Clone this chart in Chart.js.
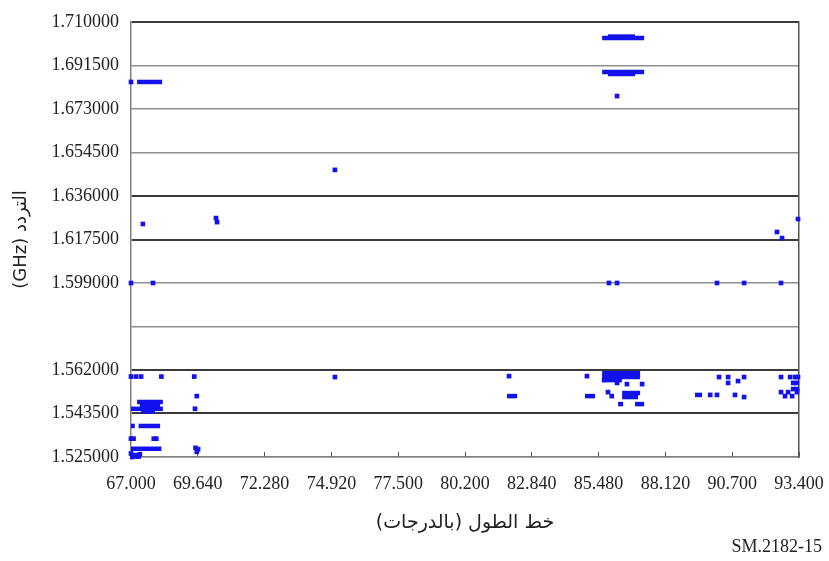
<!DOCTYPE html>
<html>
<head>
<meta charset="utf-8">
<script src="https://cdn.jsdelivr.net/npm/chart.js@4/dist/chart.umd.min.js"></script>
<style>
  html, body { margin: 0; padding: 0; background: #ffffff; }
  #wrap { width: 829px; height: 561px; }
</style>
</head>
<body>
<div id="wrap"><canvas id="c" width="829" height="561"></canvas></div>
<script>
// ---- Data ----
const xTickValues = [67.0, 69.64, 72.28, 74.92, 77.56, 80.2, 82.84, 85.48, 88.12, 90.76, 93.4];
const xTickLabels = ['67.000', '69.640', '72.280', '74.920', '77.500', '80.200', '82.840', '85.480', '88.120', '90.700', '93.400'];
const yTickValues = [1.525, 1.5435, 1.562, 1.5805, 1.599, 1.6175, 1.636, 1.6545, 1.673, 1.6915, 1.71];
const yTickLabels = ['1.525000', '1.543500', '1.562000', '', '1.599000', '1.617500', '1.636000', '1.654500', '1.673000', '1.691500', '1.710000'];
const yDarkLines = [1.5435, 1.562, 1.6175, 1.636, 1.71];

// isolated measurements (longitude, frequency GHz)
const pointsX = [
  67.0, 75.06, 86.21, 67.47, 70.36, 70.40,
  67.0, 67.87, 85.89, 86.21, 90.16, 91.23, 92.69,
  92.53, 92.73, 93.36,
  75.06,
  67.0, 67.2, 67.4, 68.2, 69.5,
  69.6, 69.53,
  67.0, 67.1, 67.9, 68.0,
  69.55, 69.65, 69.6,
  67.0, 67.1, 67.2, 67.35, 67.05, 67.3,
  81.94, 85.02,
  86.21, 86.6, 87.2, 85.7, 85.85, 86.0,
  89.89, 90.16, 90.87, 91.23,
  90.24, 90.6, 90.6, 90.99, 91.23,
  92.69, 93.05, 93.25, 93.36, 93.17, 93.32, 93.17, 93.32, 92.69, 92.97, 93.32, 92.85, 93.13
];
const pointsY = [
  1.6845, 1.6471, 1.6785, 1.6241, 1.6266, 1.6249,
  1.599, 1.599, 1.599, 1.599, 1.599, 1.599, 1.599,
  1.6207, 1.6181, 1.6262,
  1.5590,
  1.5592, 1.5592, 1.5592, 1.5592, 1.5592,
  1.5509, 1.5455,
  1.5328, 1.5328, 1.5328, 1.5328,
  1.5289, 1.5283, 1.5272,
  1.5265, 1.5258, 1.5252, 1.5262, 1.5250, 1.5252,
  1.5594, 1.5594,
  1.5565, 1.5560, 1.5560, 1.5577, 1.5526, 1.5509,
  1.5514, 1.5514, 1.5514, 1.5505,
  1.5590, 1.5590, 1.5565, 1.5573, 1.5590,
  1.5590, 1.5590, 1.5590, 1.5590, 1.5565, 1.5565, 1.5539, 1.5539, 1.5526, 1.5526, 1.5526, 1.5509, 1.5509
];

// continuous runs of measurements at one frequency (start longitude, end longitude, frequency)
const runsX1 = [67.24, 85.62, 85.85, 85.62, 85.85, 67.24, 67.0, 67.35, 67.4, 67.0, 67.3, 67.0, 67.0, 81.86, 84.94, 85.62, 85.62, 85.75, 86.41, 86.41, 86.25, 86.92, 89.29];
const runsX2 = [68.23, 87.28, 86.92, 87.28, 86.92, 68.26, 68.26, 68.15, 67.95, 67.15, 68.15, 68.2, 67.4, 82.26, 85.34, 87.12, 87.12, 86.4, 87.12, 87.04, 86.45, 87.28, 89.57];
const runsY  = [1.6845, 1.7032, 1.7038, 1.6887, 1.6879, 1.5484, 1.5455, 1.5470, 1.5443, 1.5382, 1.5382, 1.5285, 1.5258, 1.5509, 1.5509, 1.5606, 1.5590, 1.5577, 1.5522, 1.5505, 1.5475, 1.5475, 1.5514];

// ---- Build datasets ----
const BLUE = 'rgb(18,18,238)';
const datasets = [{
  type: 'scatter',
  data: pointsX.map((x, i) => ({ x: x, y: pointsY[i] })),
  pointStyle: 'rect',
  pointRadius: 3.3,
  pointBorderWidth: 0,
  backgroundColor: BLUE,
  borderColor: BLUE,
  clip: false
}];
runsY.forEach((y, i) => {
  datasets.push({
    type: 'line',
    data: [{ x: runsX1[i], y: y }, { x: runsX2[i], y: y }],
    showLine: true,
    borderColor: BLUE,
    borderWidth: 4.5,
    borderCapStyle: 'butt',
    pointRadius: 0,
    fill: false,
    clip: false
  });
});

const isDark = v => yDarkLines.some(d => Math.abs(d - v) < 1e-6);
const serif = "'Liberation Serif', 'Times New Roman', serif";
const sans = "'DejaVu Sans', 'Noto Sans', sans-serif";

new Chart(document.getElementById('c'), {
  data: { datasets: datasets },
  options: {
    responsive: false,
    animation: false,
    events: [],
    layout: { padding: { top: 22, right: 7, bottom: 0, left: 0 } },
    plugins: {
      legend: { display: false },
      tooltip: { enabled: false },
      subtitle: {
        display: true,
        text: 'SM.2182-15',
        position: 'bottom',
        align: 'end',
        color: '#222',
        font: { family: serif, size: 18, weight: 'normal', lineHeight: 1.2 },
        padding: { top: 0, bottom: 3 }
      }
    },
    scales: {
      x: {
        type: 'linear',
        position: 'bottom',
        min: 67.0,
        max: 93.4,
        afterBuildTicks: s => { s.ticks = xTickValues.map(v => ({ value: v })); },
        afterFit: s => { s.height = 79.4; s.paddingLeft = 0; s.paddingRight = 0; },
        ticks: {
          autoSkip: false,
          maxRotation: 0,
          minRotation: 0,
          padding: 21,
          color: '#222',
          font: { family: serif, size: 18 },
          callback: (v, i) => xTickLabels[i]
        },
        grid: {
          display: true,
          drawOnChartArea: false,
          drawTicks: true,
          tickLength: -5,
          color: '#555',
          lineWidth: 1
        },
        border: { display: true, color: '#808080', width: 1.5 },
        title: {
          display: true,
          text: 'خط الطول (بالدرجات)\u200F',
          color: '#222',
          font: { family: sans, size: 19, lineHeight: 1.2 },
          padding: { top: 0, bottom: 2 }
        }
      },
      y: {
        type: 'linear',
        position: 'left',
        min: 1.525,
        max: 1.71,
        afterBuildTicks: s => { s.ticks = yTickValues.map(v => ({ value: v })); },
        afterFit: s => { s.width = 131; s.paddingTop = 0; s.paddingBottom = 0; },
        ticks: {
          autoSkip: false,
          padding: 12,
          color: '#222',
          font: { family: serif, size: 18 },
          callback: (v, i) => yTickLabels[i]
        },
        grid: {
          drawTicks: false,
          color: ctx => (ctx.tick && isDark(ctx.tick.value)) ? '#3a3a3a' : '#8f8f8f',
          lineWidth: ctx => (ctx.tick && isDark(ctx.tick.value)) ? 2 : 1.5
        },
        border: { display: true, color: '#808080', width: 1.5 },
        title: {
          display: true,
          text: '(GHz) التردد',
          color: '#222',
          font: { family: sans, size: 18, lineHeight: 1.2 },
          padding: { top: 11, bottom: 0 }
        }
      },
      yRight: {
        type: 'linear',
        position: 'right',
        min: 1.525,
        max: 1.71,
        afterFit: s => { s.width = 23; s.paddingTop = 0; s.paddingBottom = 0; },
        ticks: { display: false },
        grid: { display: false, drawTicks: false },
        border: { display: true, color: '#555', width: 1.5 }
      }
    }
  }
});
</script>
</body>
</html>
